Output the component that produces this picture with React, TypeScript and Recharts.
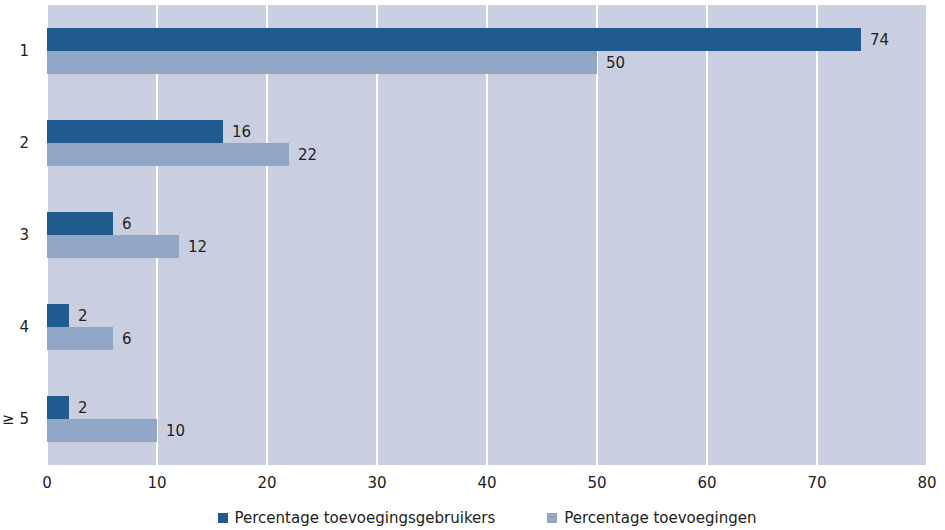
import React from 'react';
import {
  BarChart,
  Bar,
  XAxis,
  YAxis,
  CartesianGrid,
  Legend,
  LabelList } from
'recharts';

const categories = ['1', '2', '3', '4', '≥ 5'];
const gebruikers = [74, 16, 6, 2, 2];
const toevoegingen = [50, 22, 12, 6, 10];
const xTicks = [0, 10, 20, 30, 40, 50, 60, 70, 80];

const data = categories.map((name, i) => ({
  name,
  gebruikers: gebruikers[i],
  toevoegingen: toevoegingen[i]
}));

const DARK = '#1f5b8e';
const LIGHT = '#91a5c5';
const FONT = '"DejaVu Sans", Verdana, sans-serif';

function LegendContent() {
  const items = [
  { label: 'Percentage toevoegingsgebruikers', color: DARK },
  { label: 'Percentage toevoegingen', color: LIGHT }];

  return (
    <div
      style={{
        height: 35,
        boxSizing: 'border-box',
        paddingTop: 14,
        paddingLeft: 47,
        display: 'flex',
        justifyContent: 'center',
        gap: 52,
        fontFamily: FONT,
        fontSize: 15,
        color: '#222'
      }}>
      {items.map((it) =>
      <div key={it.label} style={{ display: 'flex', alignItems: 'center', height: 18 }}>
          <span style={{ width: 10, height: 10, background: it.color, display: 'inline-block', marginRight: 7 }} />
          <span>{it.label}</span>
        </div>
      )}
    </div>);

}

export default function App() {
  return (
    <div style={{ position: 'absolute', left: 0, top: 0, width: 945, height: 530, background: '#fff' }}>
      <BarChart
        width={945}
        height={530}
        data={data}
        layout="vertical"
        margin={{ top: 5, right: 18, bottom: 0, left: 0 }}
        barGap={0}
        barSize={23}>

        <CartesianGrid
          horizontal={false}
          vertical={true}
          stroke="#ffffff"
          strokeWidth={2}
          fill="#c9cfe1" />

        <XAxis
          type="number"
          domain={[0, 80]}
          ticks={xTicks}
          axisLine={false}
          tickLine={false}
          interval={0}
          height={30}
          tick={{ fill: '#222', fontSize: 15, fontFamily: FONT }}
          tickMargin={6} />

        <YAxis
          type="category"
          dataKey="name"
          width={47}
          axisLine={false}
          tickLine={false}
          tick={{ fill: '#222', fontSize: 15, fontFamily: FONT }}
          tickMargin={12} />

        <Legend
          verticalAlign="bottom"
          height={35}
          content={<LegendContent />} />

        <Bar dataKey="gebruikers" fill={DARK} isAnimationActive={false}>
          <LabelList dataKey="gebruikers" position="right" offset={9} fill="#222" fontSize={15} fontFamily={FONT} />
        </Bar>
        <Bar dataKey="toevoegingen" fill={LIGHT} isAnimationActive={false}>
          <LabelList dataKey="toevoegingen" position="right" offset={9} fill="#222" fontSize={15} fontFamily={FONT} />
        </Bar>
      </BarChart>
    </div>);

}
